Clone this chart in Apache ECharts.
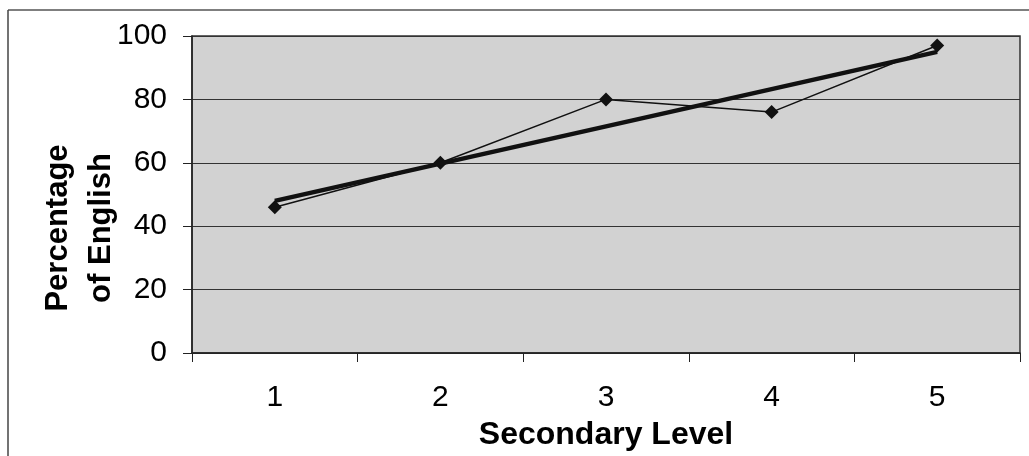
<!DOCTYPE html>
<html>
<head>
<meta charset="utf-8">
<script src="https://cdn.jsdelivr.net/npm/echarts@6/dist/echarts.min.js"></script>
<style>
html,body{margin:0;padding:0;background:#fff;}
#chart{width:1029px;height:456px;}
</style>
</head>
<body>
<div id="chart"></div>
<script>
var categories = ['1', '2', '3', '4', '5'];
var percentEnglish = [46, 60, 80, 76, 97];
var trendLine = [48, null, null, null, 95];
var yTicks = [0, 20, 40, 60, 80, 100];
var xTitle = 'Secondary Level';
var yTitle = 'Percentage\nof English';

var chart = echarts.init(document.getElementById('chart'), null, {renderer: 'canvas'});
var font = '"Liberation Sans", Arial, sans-serif';
chart.setOption({
  animation: false,
  backgroundColor: '#ffffff',
  graphic: [
    {type: 'line', shape: {x1: 8, y1: 10, x2: 1029, y2: 10}, style: {stroke: '#555', lineWidth: 1.5}},
    {type: 'line', shape: {x1: 8, y1: 10, x2: 8, y2: 456}, style: {stroke: '#444', lineWidth: 1.5}},
    {
      type: 'text', x: 80, y: 228, rotation: Math.PI / 2,
      style: {
        text: yTitle, align: 'center', verticalAlign: 'middle',
        fontFamily: font, fontSize: 31, fontWeight: 'bold', lineHeight: 43, fill: '#000'
      }
    }
  ],
  grid: {
    left: 192, right: 9, top: 36, bottom: 103,
    show: true,
    backgroundColor: '#d2d2d2',
    borderColor: '#333',
    borderWidth: 1.5
  },
  xAxis: {
    type: 'category',
    data: categories,
    boundaryGap: true,
    name: xTitle,
    nameLocation: 'middle',
    nameGap: 66,
    nameTextStyle: {fontFamily: font, fontSize: 32, fontWeight: 'bold', color: '#000'},
    axisLine: {show: true, lineStyle: {color: '#222', width: 1.5}},
    axisTick: {show: true, length: 9, lineStyle: {color: '#222', width: 1}},
    axisLabel: {fontFamily: font, fontSize: 30, color: '#000', margin: 30},
    splitLine: {show: false}
  },
  yAxis: {
    type: 'value',
    min: yTicks[0],
    max: yTicks[yTicks.length - 1],
    interval: yTicks[1] - yTicks[0],
    axisLine: {show: true, lineStyle: {color: '#222', width: 1.5}},
    axisTick: {show: true, length: 9, lineStyle: {color: '#222', width: 1}},
    axisLabel: {fontFamily: font, fontSize: 30, color: '#000', margin: 25},
    splitLine: {show: true, lineStyle: {color: '#333', width: 1}}
  },
  series: [
    {
      type: 'line',
      data: percentEnglish,
      symbol: 'diamond',
      symbolSize: 14,
      itemStyle: {color: '#111'},
      lineStyle: {color: '#111', width: 1.5},
      z: 2
    },
    {
      type: 'line',
      data: trendLine,
      connectNulls: true,
      symbol: 'none',
      lineStyle: {color: '#111', width: 4.5},
      z: 3
    }
  ]
});
</script>
</body>
</html>
